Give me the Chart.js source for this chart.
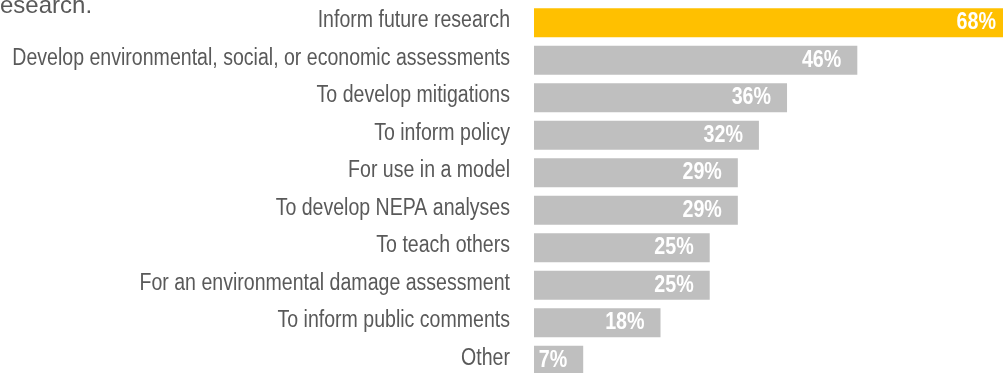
<!DOCTYPE html>
<html>
<head>
<meta charset="utf-8">
<script src="https://cdn.jsdelivr.net/npm/chart.js@4"></script>
<style>
  html, body { margin: 0; padding: 0; background: #fff; overflow: hidden; }
  #wrap { position: relative; width: 1003px; height: 373px; overflow: hidden; }
  #lead {
    position: absolute; left: -8px; top: -7px;
    font-family: "Liberation Sans", Arial, sans-serif;
    font-size: 24px; line-height: 24px; color: #595959; white-space: nowrap;
  }
  #box { position: absolute; left: 0; top: 0; width: 1026px; height: 385px; }
</style>
</head>
<body>
<div id="wrap">
  <div id="box"><canvas id="usos"></canvas></div>
  <div id="lead">research.</div>
</div>
<script>
const categorias = [
  'Inform future research',
  'Develop environmental, social, or economic assessments',
  'To develop mitigations',
  'To inform policy',
  'For use in a model',
  'To develop NEPA analyses',
  'To teach others',
  'For an environmental damage assessment',
  'To inform public comments',
  'Other'
]
const porcentajes = [68, 46, 36, 32, 29, 29, 25, 25, 18, 7]
const colores = ['#FFC000', '#BFBFBF', '#BFBFBF', '#BFBFBF', '#BFBFBF', '#BFBFBF', '#BFBFBF', '#BFBFBF', '#BFBFBF', '#BFBFBF']

const fuente = '"Liberation Sans", Arial, sans-serif'

// no hay Arial Narrow, se comprime a mano
const textoEstrecho = (ctx, texto, x, y, k) => {
  ctx.save()
  ctx.translate(x, y)
  ctx.scale(k, 1)
  ctx.fillText(texto, 0, 0)
  ctx.restore()
}

// nombres de categoria a la izquierda y porcentajes dentro de cada barra
const etiquetas = {
  id: 'etiquetas',
  afterDatasetsDraw(chart) {
    const {ctx, scales: {y}} = chart
    const meta = chart.getDatasetMeta(0)
    ctx.save()
    ctx.textAlign = 'right'
    ctx.textBaseline = 'middle'

    ctx.font = '23px ' + fuente
    ctx.fillStyle = '#595959'
    categorias.forEach((c, i) => {
      textoEstrecho(ctx, c, y.right - 24, y.getPixelForTick(i) - 2, 0.85)
    })

    ctx.font = 'bold 24px ' + fuente
    ctx.fillStyle = '#fff'
    meta.data.forEach((bar, i) => {
      textoEstrecho(ctx, porcentajes[i] + '%', bar.x - 16, bar.y, 0.82)
    })
    ctx.restore()
  }
}

const graficoBarras = () => {
  new Chart(document.getElementById('usos'), {
    type: 'bar',
    data: {
      labels: categorias,
      datasets: [{
        data: porcentajes,
        backgroundColor: colores,
        borderWidth: 0,
        categoryPercentage: 1,
        barPercentage: 0.773
      }]
    },
    options: {
      indexAxis: 'y',
      responsive: true,
      maintainAspectRatio: false,
      animation: false,
      layout: { padding: { top: 4, bottom: 6, left: 0, right: 0 } },
      plugins: {
        legend: { display: false },
        tooltip: { enabled: false }
      },
      scales: {
        x: {
          display: false,
          min: 0,
          max: 70
        },
        y: {
          grid: { display: false },
          border: { display: false },
          ticks: { display: false },
          afterFit(scale) { scale.width = 534 }
        }
      }
    },
    plugins: [etiquetas]
  })
}

graficoBarras()
</script>
</body>
</html>
